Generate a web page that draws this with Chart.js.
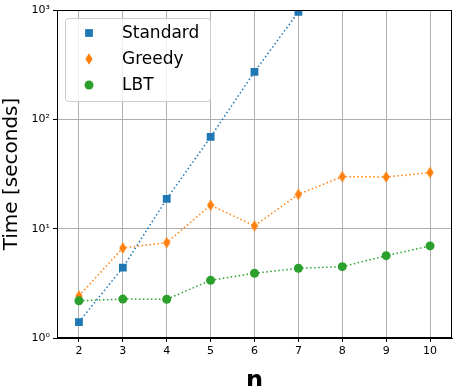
<!DOCTYPE html>
<html>
<head>
<meta charset="utf-8">
<script src="https://cdn.jsdelivr.net/npm/chart.js@4.4.0/dist/chart.umd.min.js"></script>
<style>
html, body { margin: 0; padding: 0; background: #fff; }
</style>
</head>
<body>
<canvas id="timeChart" width="458" height="386"></canvas>
<script>
// data
const nValues = ["2", "3", "4", "5", "6", "7", "8", "9", "10"];
const standardTimes = [1.4, 4.4, 18.7, 69, 272, 960];
const greedyTimes = [2.42, 6.66, 7.45, 16.4, 10.6, 20.6, 29.9, 29.7, 32.6];
const lbtTimes = [2.19, 2.27, 2.26, 3.37, 3.91, 4.34, 4.49, 5.66, 6.95];
const yTicks = [1, 10, 100, 1000];
const yTickLabels = ["10⁰", "10¹", "10²", "10³"];

const BLUE = "#1f77b4", ORANGE = "#ff7f0e", GREEN = "#2ca02c";
const FONT = "'DejaVu Sans', sans-serif";

// thin diamond marker like matplotlib's 'd'
function thinDiamond(color) {
    const c = document.createElement("canvas");
    c.width = 8; c.height = 12;
    const g = c.getContext("2d");
    g.fillStyle = color;
    g.beginPath();
    g.moveTo(4, 0.3);
    g.lineTo(7.6, 6);
    g.lineTo(4, 11.7);
    g.lineTo(0.4, 6);
    g.closePath();
    g.fill();
    return c;
}

// closes the box on top/right like matplotlib spines
const framePlugin = {
    id: "frame",
    afterDatasetsDraw(chart) {
        const { ctx, chartArea: a } = chart;
        ctx.save();
        ctx.strokeStyle = "#000";
        ctx.lineWidth = 1;
        ctx.strokeRect(a.left + 0.5, a.top + 0.5, a.right - a.left - 1, a.bottom - a.top - 1);
        ctx.restore();
    }
};

// legend box inside the axes, upper left
const innerLegend = {
    id: "innerLegend",
    afterDraw(chart) {
        const { ctx, chartArea: a } = chart;
        const x0 = a.left + 8, y0 = a.top + 8, w = 145, h = 83;
        ctx.save();
        ctx.fillStyle = "rgba(255,255,255,0.8)";
        ctx.strokeStyle = "#cccccc";
        ctx.lineWidth = 1;
        ctx.beginPath();
        ctx.roundRect(x0 + 0.5, y0 + 0.5, w, h, 3);
        ctx.fill();
        ctx.stroke();
        ctx.font = "17px " + FONT;
        ctx.textBaseline = "middle";
        chart.data.datasets.forEach((ds, i) => {
            const cy = y0 + 15 + i * 26;
            ctx.fillStyle = ds.backgroundColor;
            Chart.helpers.drawPoint(ctx, {
                pointStyle: ds.pointStyle,
                radius: ds.pointRadius,
                borderWidth: 0,
                rotation: 0
            }, x0 + 24, cy);
            ctx.fillStyle = "#000";
            ctx.fillText(ds.label, x0 + 57, cy + 1);
        });
        ctx.restore();
    }
};

new Chart(document.getElementById("timeChart"), {
    type: "line",
    data: {
        labels: nValues,
        datasets: [
            {
                label: "Standard",
                data: standardTimes,
                borderColor: BLUE,
                backgroundColor: BLUE,
                pointStyle: "rect",
                pointRadius: 5.5,
                order: 3
            },
            {
                label: "Greedy",
                data: greedyTimes,
                borderColor: ORANGE,
                backgroundColor: ORANGE,
                pointStyle: thinDiamond(ORANGE),
                pointRadius: 6,
                order: 2
            },
            {
                label: "LBT",
                data: lbtTimes,
                borderColor: GREEN,
                backgroundColor: GREEN,
                pointStyle: "circle",
                pointRadius: 4.5,
                order: 1
            }
        ].map(ds => Object.assign(ds, {
            borderWidth: 1.5,
            borderDash: [1.5, 2.5],
            pointBorderWidth: 0,
            pointHoverRadius: ds.pointRadius,
            tension: 0,
            fill: false
        }))
    },
    options: {
        responsive: false,
        animation: false,
        events: [],
        layout: { padding: { left: 0, right: 5, top: 10, bottom: 0 } },
        plugins: {
            legend: { display: false },
            tooltip: { enabled: false }
        },
        scales: {
            x: {
                type: "category",
                offset: true,
                grid: {
                    offset: false,
                    color: "#b0b0b0",
                    lineWidth: 1,
                    tickColor: "#000",
                    tickLength: 4
                },
                border: { color: "#000", width: 1 },
                ticks: {
                    color: "#000",
                    padding: 3,
                    font: { family: FONT, size: 11 },
                    maxRotation: 0
                },
                title: {
                    display: true,
                    text: "n",
                    color: "#000",
                    font: { family: FONT, size: 24, weight: "bold", lineHeight: 0.75 },
                    padding: { top: 0, bottom: -5 }
                },
                afterFit(scale) { scale.height = 48; }
            },
            y: {
                type: "logarithmic",
                min: 1,
                max: 1000,
                afterBuildTicks(scale) {
                    scale.ticks = yTicks.map(v => ({ value: v }));
                },
                grid: {
                    color: "#b0b0b0",
                    lineWidth: 1,
                    tickColor: "#000",
                    tickLength: 4
                },
                border: { color: "#000", width: 1 },
                ticks: {
                    color: "#000",
                    padding: 3,
                    font: { family: FONT, size: 11 },
                    callback: (v) => yTickLabels[yTicks.indexOf(v)]
                },
                title: {
                    display: true,
                    text: "Time [seconds]",
                    color: "#000",
                    font: { family: FONT, size: 20, lineHeight: 1 },
                    padding: { top: 2, bottom: 0 }
                },
                afterFit(scale) { scale.width = 57; }
            }
        }
    },
    plugins: [framePlugin, innerLegend]
});
</script>
</body>
</html>
